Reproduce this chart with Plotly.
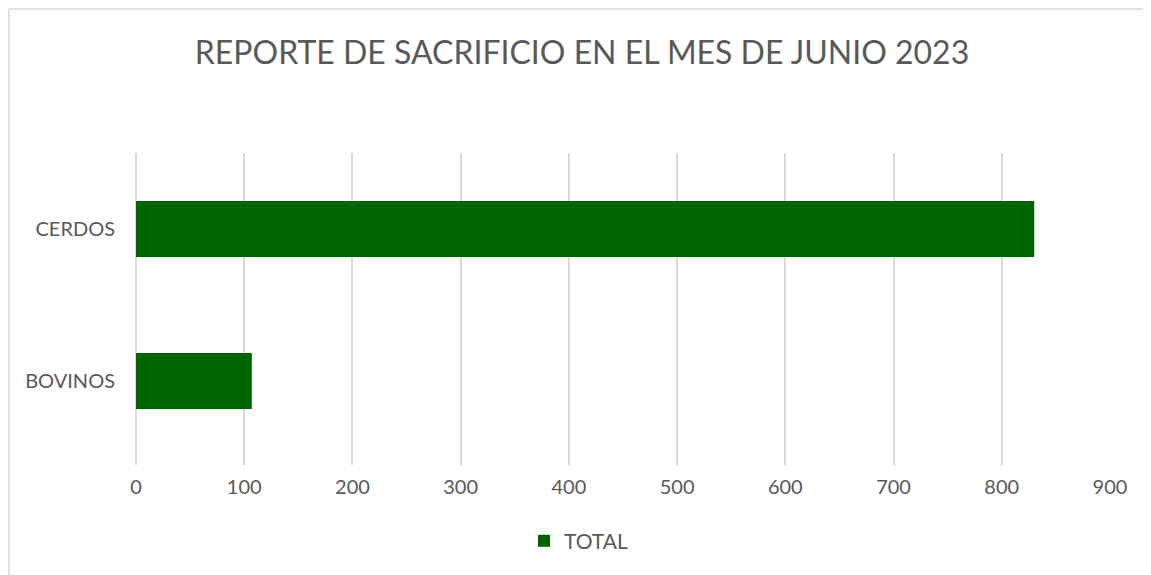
import plotly.graph_objects as go

categories = ["BOVINOS", "CERDOS"]
totals = [107, 830]
series_name = "TOTAL"
title_text = "REPORTE DE SACRIFICIO EN EL MES DE JUNIO 2023"
x_ticks = [0, 100, 200, 300, 400, 500, 600, 700, 800, 900]

font_family = "Lato, 'Open Sans', sans-serif"
grey = "#595959"

fig = go.Figure()
fig.add_trace(go.Bar(
    y=categories, x=totals, orientation="h", name=series_name,
    marker=dict(color="#006400", line=dict(width=0)),
    width=0.368, showlegend=True,
))

# page body has an 8px margin; figure coords = reference px - 8
OFF = 8
W, H = 1151 - OFF, 575 - OFF
L, T = 136 - OFF, 153 - OFF
R = W - (1110 - OFF)
B = H - (465 - OFF)
pw, ph = W - L - R, H - T - B

fig.update_layout(
    width=W, height=H,
    margin=dict(l=L, r=R, t=T, b=B),
    paper_bgcolor="white", plot_bgcolor="white",
    font=dict(family=font_family, color=grey, size=20),
    title=dict(text=title_text, x=(582 - OFF) / W, xanchor="center",
               y=1 - (53 - OFF) / H, yanchor="middle",
               font=dict(size=32, color=grey, family=font_family)),
    xaxis=dict(range=[0, 900], tickvals=x_ticks, showgrid=True,
               gridcolor="#d9d9d9", gridwidth=1.5, zeroline=True,
               zerolinecolor="#d9d9d9", zerolinewidth=1.5,
               showline=False, ticks="", tickfont=dict(size=20, color=grey),
               ticklabelstandoff=8),
    yaxis=dict(showgrid=False, zeroline=False, showline=False, ticks="",
               range=[-0.553, 1.5],
               tickfont=dict(size=20, color=grey), ticklabelstandoff=20),
    legend=dict(orientation="h", x=(524 - OFF - L) / pw, xanchor="left",
                y=-((541 - OFF) - (H - B)) / ph, yanchor="middle", yref="paper",
                font=dict(size=21, color=grey)),
    shapes=[
        dict(type="line", xref="paper", yref="paper",
             x0=(1 - L) / pw, x1=(W + 50 - L) / pw,
             y0=((H - B) - 1) / ph, y1=((H - B) - 1) / ph,
             line=dict(color="#d9d9d9", width=1.5), layer="below"),
        dict(type="line", xref="paper", yref="paper",
             x0=(1 - L) / pw, x1=(1 - L) / pw,
             y0=((H - B) - (H + 50)) / ph, y1=((H - B) - 1) / ph,
             line=dict(color="#d9d9d9", width=1.5), layer="below"),
    ],
)

fig.write_html("out.html")
